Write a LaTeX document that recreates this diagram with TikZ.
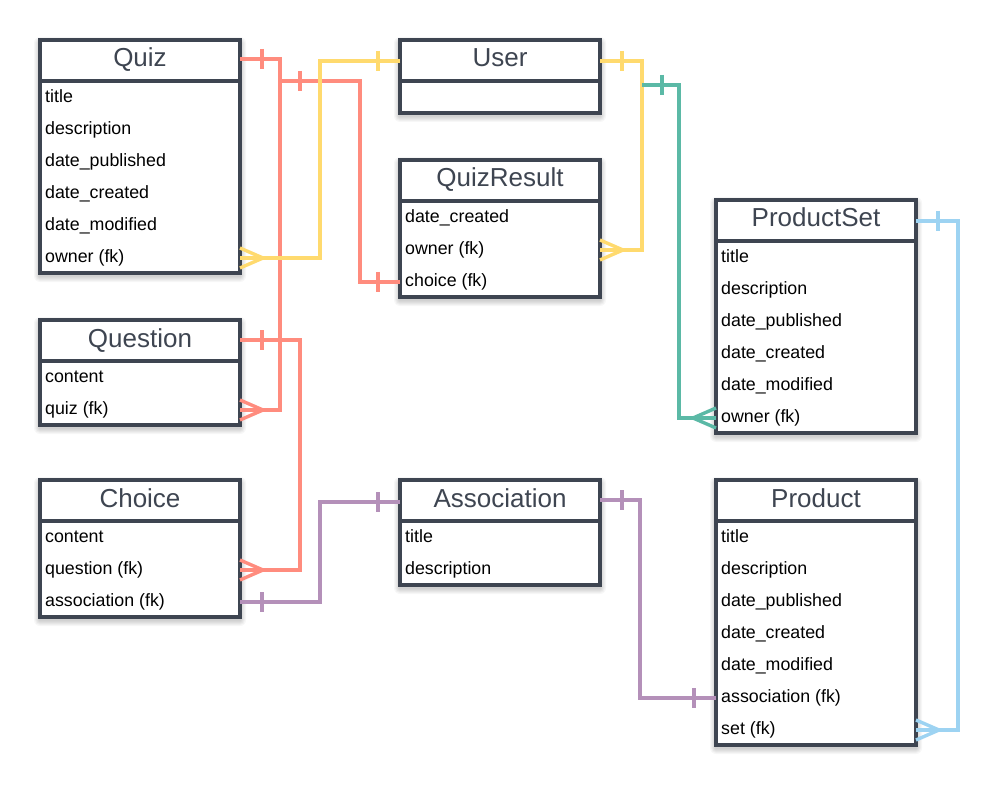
\documentclass[tikz,border=0pt]{standalone}
\usepackage{fontspec}
\setmainfont{Liberation Sans}
\usetikzlibrary{calc}
\definecolor{border}{HTML}{3E4551}
\definecolor{salmon}{HTML}{FF8C7E}
\definecolor{sun}{HTML}{FFDA6E}
\definecolor{tealc}{HTML}{5BB9A6}
\definecolor{mauve}{HTML}{B490B9}
\definecolor{sky}{HTML}{9DD3F2}
\tikzset{
  ebox/.style={draw=border, line width=4pt, fill=white, minimum width=200pt,
    inner sep=0pt, outer sep=0pt},
  eshadow/.style={fill=black, fill opacity=0.03, draw=none},
  eline/.style={draw=border, line width=4pt},
  ehdr/.style={text=border, font=\fontsize{26}{30}\selectfont, inner sep=0pt},
  erow/.style={text=black, font=\fontsize{17.8}{20}\selectfont, inner sep=0pt,
    text height=13pt, text depth=4pt},
  conn/.style={line width=3.4pt, draw=#1, line join=miter}
}
\newcommand\erent[6]{%
  \pgfmathsetmacro\erh{41+32*#5}
  \foreach \k in {1,...,6} {%
    \fill[eshadow, rounded corners=\k pt] (#2-\k,#3-\k+3) rectangle (#2+200+\k,#3+\erh+\k+3);}
  \node[ebox, minimum height=\erh pt, anchor=north west] (#1) at (#2,#3) {};
  \draw[eline] (#1.west |- #2,#3+41) -- (#1.east |- #2,#3+41);
  \node[ehdr, anchor=base] (#1-t) at (#2+100,#3+27) {#4};
  \foreach \rowtext [count=\i] in {#6} {%
    \node[erow, anchor=base west] (#1-\i) at (#2+5,#3+41+32*\i-10.5) {\rowtext};}
}
% tick: point, x offset, colour
\newcommand\tick[3]{\draw[conn=#3] ($#1+(#2,-10)$) -- ($#1+(#2,10)$);}
% crow's foot: point, direction (+1 right, -1 left), colour
\newcommand\crow[3]{\draw[conn=#3] ($#1+(0,-10)$) -- ($#1+(#2*23,0)$) -- ($#1+(0,10)$);}
\begin{document}
\begin{tikzpicture}[x=1pt,y=-1pt]
\useasboundingbox[fill=white] (0,0) rectangle (998,786);

\erent{quiz}{40}{40}{Quiz}{6}{title,description,date\_published,date\_created,date\_modified,owner (fk)}
\erent{user}{400}{40}{User}{1}{\mbox{}}
\erent{qres}{400}{160}{QuizResult}{3}{date\_created,owner (fk),choice (fk)}
\erent{question}{40}{320}{Question}{2}{content,quiz (fk)}
\erent{choice}{40}{480}{Choice}{3}{content,question (fk),association (fk)}
\erent{assoc}{400}{480}{Association}{2}{title,description}
\erent{pset}{716}{200}{ProductSet}{6}{title,description,date\_published,date\_created,date\_modified,owner (fk)}
\erent{product}{716}{480}{Product}{7}{title,description,date\_published,date\_created,date\_modified,association (fk),set (fk)}

% Quiz -> Question.quiz
\coordinate (a1) at ($(quiz.north east)+(0,19)$);
\coordinate (a2) at (quiz.east |- question-2);
\draw[conn=salmon] (a1) -- ++(40,0) |- (a2);
\tick{(a1)}{22}{salmon}
\crow{(a2)}{1}{salmon}

% -> QuizResult.choice
\coordinate (b1) at (280,81);
\coordinate (b2) at (qres.west |- qres-3);
\draw[conn=salmon] (b1) -- (360,81) |- (b2);
\tick{(b1)}{20}{salmon}
\tick{(b2)}{-22}{salmon}

% User -> Quiz.owner
\coordinate (c1) at ($(user.north west)+(0,21)$);
\coordinate (c2) at (quiz.east |- quiz-6);
\draw[conn=sun] (c1) -- (320,61) |- (c2);
\tick{(c1)}{-22}{sun}
\crow{(c2)}{1}{sun}

% User -> QuizResult.owner
\coordinate (d1) at ($(user.north east)+(0,21)$);
\coordinate (d2) at (qres.east |- qres-2);
\draw[conn=sun] (d1) -- (642,61) |- (d2);
\tick{(d1)}{22}{sun}
\crow{(d2)}{1}{sun}

% User -> ProductSet.owner
\coordinate (e1) at (642,85);
\coordinate (e2) at (pset.west |- pset-6);
\draw[conn=tealc] (e1) -- (679,85) |- (e2);
\tick{(e1)}{20}{tealc}
\crow{(e2)}{-1}{tealc}

% Question -> Choice.question
\coordinate (f1) at ($(question.north east)+(0,20)$);
\coordinate (f2) at (choice.east |- choice-2);
\draw[conn=salmon] (f1) -- ++(60,0) |- (f2);
\tick{(f1)}{22}{salmon}
\crow{(f2)}{1}{salmon}

% Association -> Choice.association
\coordinate (g1) at ($(assoc.north west)+(0,22)$);
\coordinate (g2) at (choice.east |- choice-3);
\draw[conn=mauve] (g1) -- (320,502) |- (g2);
\tick{(g1)}{-22}{mauve}
\tick{(g2)}{22}{mauve}

% Association -> Product.association
\coordinate (h1) at ($(assoc.north east)+(0,20)$);
\coordinate (h2) at (product.west |- product-6);
\draw[conn=mauve] (h1) -- (640,500) |- (h2);
\tick{(h1)}{22}{mauve}
\tick{(h2)}{-22}{mauve}

% ProductSet -> Product.set
\coordinate (i1) at ($(pset.north east)+(0,21)$);
\coordinate (i2) at (product.east |- product-7);
\draw[conn=sky] (i1) -- (958,221) |- (i2);
\tick{(i1)}{22}{sky}
\crow{(i2)}{1}{sky}
\end{tikzpicture}
\end{document}
